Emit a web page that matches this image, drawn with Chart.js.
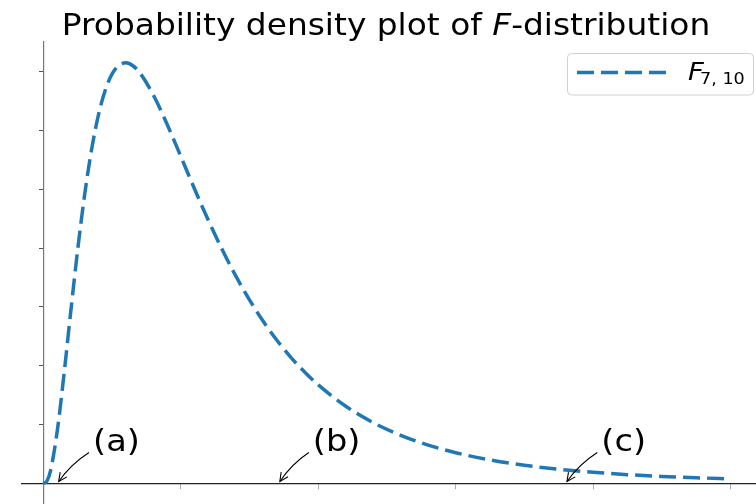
<!DOCTYPE html>
<html>
<head>
<meta charset="utf-8">
<script src="https://cdn.jsdelivr.net/npm/chart.js@4.4.0/dist/chart.umd.min.js"></script>
<style>
  html, body { margin: 0; padding: 0; background: #fff; }
</style>
</head>
<body>
<canvas id="fChart" width="756" height="504"></canvas>
<script>
// F(7, 10) density
const xValues = [0, 0.025, 0.05, 0.1, 0.15, 0.2, 0.25, 0.3, 0.35, 0.4, 0.45, 0.5, 0.55, 0.6, 0.65, 0.7,
  0.8, 0.9, 1.0, 1.1, 1.2, 1.3, 1.4, 1.5, 1.6, 1.7, 1.8, 1.9, 2.0, 2.2, 2.4, 2.6, 2.8, 3.0,
  3.25, 3.5, 3.75, 4.0, 4.25, 4.5, 4.75, 5.0];
const densityValues = [0, 0.0043, 0.0211, 0.0899, 0.1883, 0.2966, 0.4007, 0.4924, 0.5682, 0.6268, 0.6690, 0.6963, 0.7110, 0.7148, 0.7099, 0.6981,
  0.6598, 0.6099, 0.5552, 0.5000, 0.4469, 0.3975, 0.3523, 0.3116, 0.2752, 0.2430, 0.2145, 0.1895, 0.1675, 0.1313, 0.1034, 0.0820, 0.0653, 0.0524,
  0.0401, 0.0310, 0.0242, 0.0191, 0.0151, 0.0121, 0.0098, 0.0079];

// tick marks (no labels in the original)
const xTicks = [0, 1, 2, 3, 4, 5];
const yTicks = [0, 0.1, 0.2, 0.3, 0.4, 0.5, 0.6, 0.7];

// annotations: where the arrow points on the x axis, and where the label sits
const annotLabels = ['(a)', '(b)', '(c)'];
const annotPointX = [0.11, 1.72, 3.81];
const annotTextX = [0.36, 1.96, 4.06];
const annotTextY = 0.055;

// axis limits
const xMin = -0.157, xMax = 5.186;
const yMin = -0.0348, yMax = 0.7502;

const lineColor = '#1f77b4';
const textStretch = 1.1; // text in the picture is a bit wider than tall

// draw a run of text parts [text, font, dy] stretched horizontally
function drawParts(ctx, parts, x, baseline, sx, align) {
  let total = 0;
  const widths = parts.map(p => { ctx.font = p[1]; const w = ctx.measureText(p[0]).width; total += w; return w; });
  ctx.save();
  let start = x;
  if (align === 'center') start = x - total * sx / 2;
  ctx.translate(start, baseline);
  ctx.scale(sx, 1);
  ctx.textBaseline = 'alphabetic';
  ctx.textAlign = 'left';
  let off = 0;
  parts.forEach((p, i) => {
    ctx.font = p[1];
    ctx.fillText(p[0], off, p[2] || 0);
    off += widths[i];
  });
  ctx.restore();
}

function drawArrow(ctx, sx, sy, ex, ey) {
  const rad = 0.1;
  const mx = (sx + ex) / 2, my = (sy + ey) / 2;
  const dx = ex - sx, dy = ey - sy;
  const cx = mx - rad * dy, cy = my + rad * dx;
  ctx.save();
  ctx.strokeStyle = '#000';
  ctx.lineWidth = 1.1;
  ctx.setLineDash([]);
  ctx.beginPath();
  ctx.moveTo(sx, sy);
  ctx.quadraticCurveTo(cx, cy, ex, ey);
  ctx.stroke();
  // open head
  const ang = Math.atan2(ey - cy, ex - cx);
  const len = 9.5, spread = 0.45;
  ctx.beginPath();
  ctx.moveTo(ex - len * Math.cos(ang - spread), ey - len * Math.sin(ang - spread));
  ctx.lineTo(ex, ey);
  ctx.lineTo(ex - len * Math.cos(ang + spread), ey - len * Math.sin(ang + spread));
  ctx.stroke();
  ctx.restore();
}

const overlay = {
  id: 'overlay',
  afterDraw(chart) {
    const ctx = chart.ctx;
    const xs = chart.scales.x, ys = chart.scales.y;
    ctx.fillStyle = '#000';

    // title with italic F
    drawParts(ctx, [
      ['Probability density plot of ', '30px "DejaVu Sans"'],
      ['F', 'italic 30px "DejaVu Sans"'],
      ['-distribution', '30px "DejaVu Sans"']
    ], 386, 35, 1.095, 'center');

    // annotations
    annotLabels.forEach((lab, i) => {
      const tx = xs.getPixelForValue(annotTextX[i]);
      const ty = ys.getPixelForValue(annotTextY);
      const px = xs.getPixelForValue(annotPointX[i]);
      const py = ys.getPixelForValue(0) - 2;
      ctx.fillStyle = '#000';
      drawParts(ctx, [[lab, '30px "DejaVu Sans"']], tx, ty, 1.12, 'left');
      drawArrow(ctx, tx - 4, ty + 1.3, px, py);
    });

    // legend box
    ctx.save();
    ctx.beginPath();
    ctx.roundRect(567.5, 53.5, 186, 41.5, 4);
    ctx.fillStyle = 'rgba(255,255,255,0.8)';
    ctx.fill();
    ctx.strokeStyle = '#d0d0d0';
    ctx.lineWidth = 1;
    ctx.stroke();
    ctx.beginPath();
    ctx.setLineDash([17, 7]);
    ctx.strokeStyle = lineColor;
    ctx.lineWidth = 3.5;
    ctx.moveTo(577, 72.5);
    ctx.lineTo(669, 72.5);
    ctx.stroke();
    ctx.restore();
    ctx.fillStyle = '#000';
    drawParts(ctx, [['F', 'italic 25px "DejaVu Sans"']], 688, 79.5, textStretch, 'left');
    drawParts(ctx, [['7, 10', '16px "DejaVu Sans"']], 700, 83.5, textStretch, 'left');
  }
};

const points = xValues.map((x, i) => ({ x: x, y: densityValues[i] }));

new Chart(document.getElementById('fChart'), {
  type: 'line',
  data: {
    datasets: [{
      label: 'F 7,10',
      data: points,
      borderColor: lineColor,
      borderWidth: 3.5,
      borderDash: [17, 7],
      pointRadius: 0,
      fill: false,
      cubicInterpolationMode: 'monotone'
    }]
  },
  options: {
    responsive: false,
    animation: false,
    layout: { padding: { left: 22, top: 42, right: 0, bottom: 0 } },
    plugins: {
      legend: { display: false },
      title: { display: false },
      tooltip: { enabled: false }
    },
    scales: {
      x: {
        type: 'linear',
        min: xMin,
        max: xMax,
        position: { y: 0 },
        afterFit: s => { s.height = 0; },
        afterBuildTicks: s => { s.ticks = xTicks.map(v => ({ value: v })); },
        ticks: { display: false },
        grid: { drawOnChartArea: false, tickLength: 5, tickColor: '#aaa' },
        border: { color: '#222', width: 1.2 }
      },
      y: {
        type: 'linear',
        min: yMin,
        max: yMax,
        position: { x: 0 },
        afterFit: s => { s.width = 0; },
        afterBuildTicks: s => { s.ticks = yTicks.map(v => ({ value: v })); },
        ticks: { display: false },
        grid: { drawOnChartArea: false, tickLength: 4, tickColor: '#555' },
        border: { color: '#777', width: 1.2 }
      }
    }
  },
  plugins: [overlay]
});
</script>
</body>
</html>
